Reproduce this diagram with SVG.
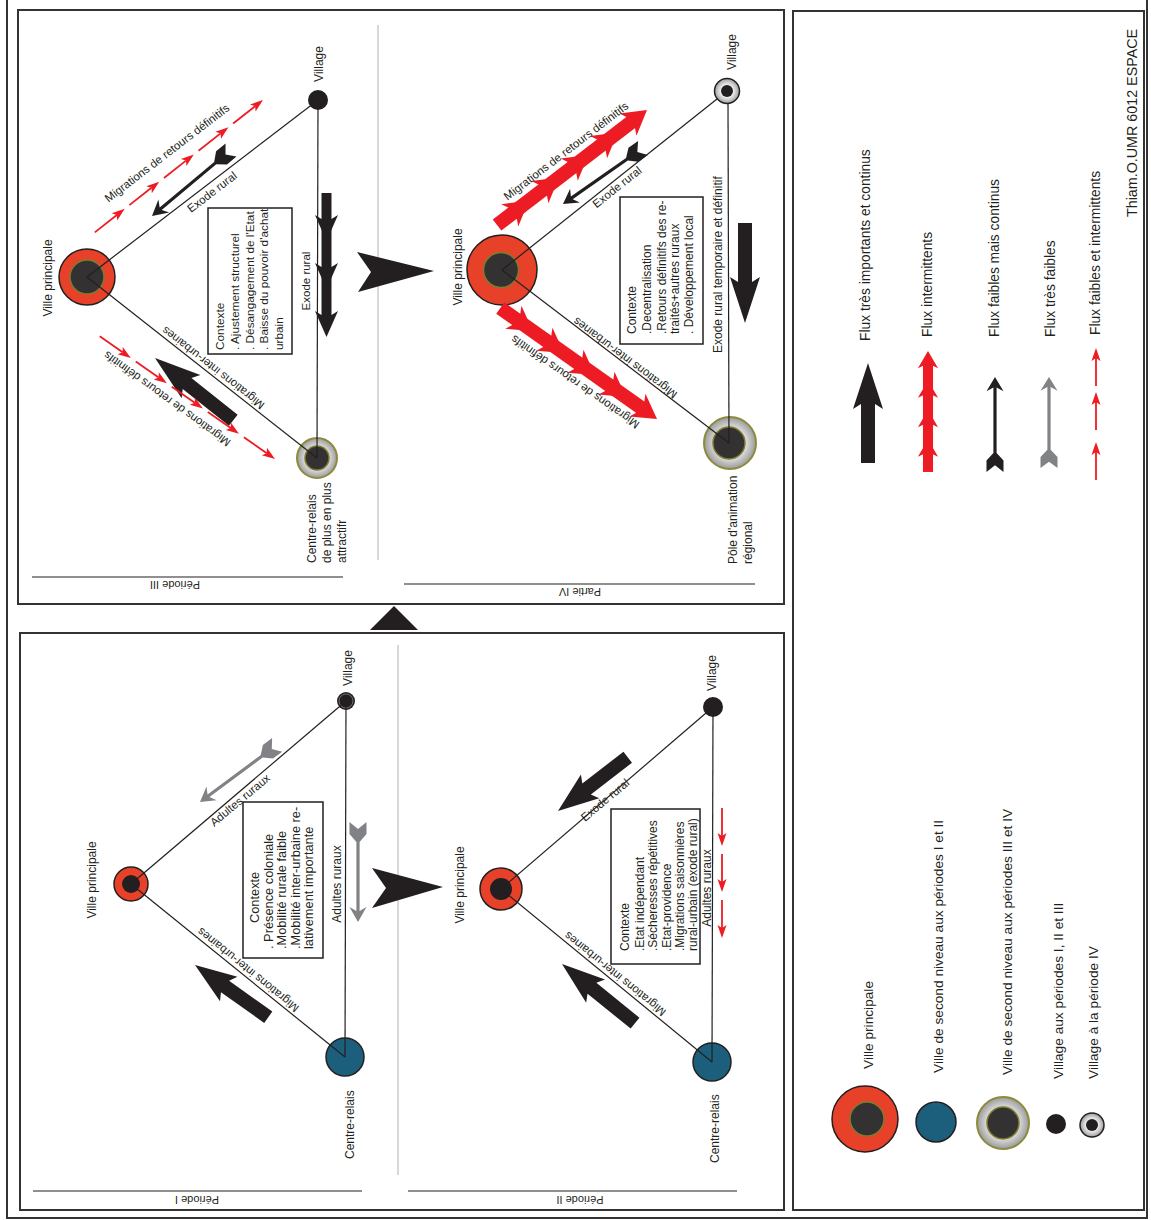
<svg xmlns="http://www.w3.org/2000/svg" width="1151" height="1220" viewBox="0 0 1151 1220">
<style>
.t{font-family:"Liberation Sans",Arial,sans-serif;fill:#231f20}
.lb{font-size:12px}
.dg{font-size:11.5px}
.lg{font-size:13.7px}
.pd{font-size:11px}
.frame{fill:none;stroke:#333;stroke-width:2}
.edge{stroke:#231f20;stroke-width:1.2;fill:none}
.cbox{fill:#fff;stroke:#231f20;stroke-width:1.5}
.red{fill:#e8412a;stroke:#231f20;stroke-width:1.5}
.inner{fill:#333132;stroke:#7d7b2e;stroke-width:1.5}
.ring{fill:url(#gRing);stroke:#8d8a3a;stroke-width:2}
.blue{fill:#1c5f7d;stroke:#231f20;stroke-width:1.5}
.blk{fill:#231f20}
.div{stroke:#b0b0b0;stroke-width:1}
</style>
<defs>
<radialGradient id="gRing" cx="50%" cy="50%" r="50%">
<stop offset="0.55" stop-color="#e6e6e6"/><stop offset="1" stop-color="#9b9b9b"/>
</radialGradient>
<radialGradient id="gVil" cx="50%" cy="50%" r="50%">
<stop offset="0.4" stop-color="#ffffff"/><stop offset="1" stop-color="#9d9d9d"/>
</radialGradient>
<path id="big" d="M0,0 L-46,-15 L-41,-7 L-100,-7 L-100,7 L-41,7 L-46,15 Z"/>
<path id="thin" d="M0,0 L-15,-8.5 L-11,-1.6 L-80,-1.6 L-88,-8.5 L-100,-8.5 L-93,0 L-100,8.5 L-88,8.5 L-80,1.6 L-11,1.6 L-15,8.5 Z"/>
<path id="rhead" d="M0,0 L-24,-14 L-20,-6 L-20,6 L-24,14 Z"/>
<path id="bhead" d="M0,0 L-26,-11.5 L-22,-5 L-22,5 L-26,11.5 Z"/>
<g id="dash"><line x1="-38" y1="0" x2="-10" y2="0" stroke="#ed1c24" stroke-width="1.8"/><path d="M0,0 L-13,-4.5 L-10,0 L-13,4.5 Z" fill="#ed1c24"/></g>
</defs>
<rect width="1151" height="1220" fill="#fff"/>

<!-- frames -->
<g id="frames">
<rect class="frame" x="7" y="-3" width="1140" height="1221"/>
<rect class="frame" x="793" y="11" width="351" height="1199"/>
<rect class="frame" x="18" y="10" width="766" height="594"/>
<rect class="frame" x="20" y="633" width="764" height="577"/>
<line class="div" x1="378" y1="25" x2="378" y2="560"/>
<line class="div" x1="398" y1="645" x2="398" y2="1175"/>
<polygon class="blk" points="394,606 370,630 418,630"/>
<polygon class="blk" points="357,252 434,271 358,292 371,272"/>
<polygon class="blk" points="372,868 443,887 372,908 386,888"/>
<line class="edge" x1="32" y1="577" x2="343" y2="577"/>
<line class="edge" x1="404" y1="584" x2="755" y2="584"/>
<line class="edge" x1="33" y1="1191" x2="362" y2="1191"/>
<line class="edge" x1="408" y1="1191" x2="737" y2="1191"/>
<text class="t pd" text-anchor="middle" transform="translate(175,581) rotate(180)">Période III</text>
<text class="t pd" text-anchor="middle" transform="translate(580,588) rotate(180)">Partie IV</text>
<text class="t pd" text-anchor="middle" transform="translate(197,1196) rotate(180)">Période I</text>
<text class="t pd" text-anchor="middle" transform="translate(580,1196) rotate(180)">Période II</text>
</g>

<!-- nodes -->
<g id="p3-ville"><circle class="red" cx="87" cy="277" r="28"/><circle class="inner" cx="87" cy="277" r="17"/>
<text class="t lb" text-anchor="middle" transform="translate(52,278) rotate(-90)">Ville principale</text></g>
<g id="p3-village"><circle class="blk" cx="318" cy="100" r="10"/>
<text class="t lb" text-anchor="middle" transform="translate(323,64) rotate(-90)">Village</text></g>
<g id="p3-centre"><circle class="ring" cx="317" cy="458" r="20"/><circle class="inner" cx="317" cy="458" r="12"/>
<text class="t lb" transform="translate(316,563) rotate(-90)">Centre-relais</text>
<text class="t lb" transform="translate(331,563) rotate(-90)">de plus en plus</text>
<text class="t lb" transform="translate(346,563) rotate(-90)">attractifr</text></g>
<g id="p3-contexte"><rect class="cbox" x="208" y="208" width="84" height="146"/>
<g class="t" font-size="11.8px">
<text transform="translate(224,350) rotate(-90)">Contexte</text>
<text transform="translate(239,350) rotate(-90)">. Ajustement structurel</text>
<text transform="translate(254,350) rotate(-90)">. Désangagement de l'Etat</text>
<text transform="translate(268,350) rotate(-90)">. Baisse du pouvoir d'achat</text>
<text transform="translate(283,350) rotate(-90)">urbain</text></g></g>

<g id="p4-ville"><circle class="red" cx="502" cy="270" r="35"/><circle class="inner" cx="501" cy="270" r="17.5"/>
<text class="t lb" text-anchor="middle" transform="translate(462,267) rotate(-90)">Ville principale</text></g>
<g id="p4-village"><circle cx="727" cy="91" r="12.5" fill="url(#gVil)" stroke="#231f20" stroke-width="1.5"/><circle class="blk" cx="727" cy="91" r="6"/>
<text class="t lb" text-anchor="middle" transform="translate(736,52) rotate(-90)">Village</text></g>
<g id="p4-pole"><circle class="ring" cx="730" cy="443" r="26"/><circle class="inner" cx="729" cy="443" r="16"/>
<text class="t lb" transform="translate(737,564) rotate(-90)">Pôle d'animation</text>
<text class="t lb" transform="translate(752,564) rotate(-90)">régional</text></g>
<g id="p4-contexte"><rect class="cbox" x="620" y="197" width="83" height="147"/>
<g class="t" font-size="12px">
<text transform="translate(636,334) rotate(-90)">Contexte</text>
<text transform="translate(651,334) rotate(-90)">.Decentralisation</text>
<text transform="translate(666,334) rotate(-90)">.Retours définitifs des re-</text>
<text transform="translate(679,334) rotate(-90)">traités+autres ruraux</text>
<text transform="translate(693,334) rotate(-90)">. Développement local</text></g></g>

<g id="p1-ville"><circle class="red" cx="131" cy="884" r="17"/><circle class="blk" cx="131" cy="884" r="9"/>
<text class="t lb" text-anchor="middle" transform="translate(96,880) rotate(-90)">Ville principale</text></g>
<g id="p1-village"><circle class="blk" cx="346" cy="701" r="9"/><circle cx="346" cy="701" r="7" fill="none" stroke="#fff" stroke-width="0.6" opacity="0.6"/>
<text class="t lb" text-anchor="middle" transform="translate(352,668) rotate(-90)">Village</text></g>
<g id="p1-centre"><circle class="blue" cx="345" cy="1057" r="19"/>
<text class="t lb" transform="translate(354,1159) rotate(-90)">Centre-relais</text></g>
<g id="p1-contexte"><rect class="cbox" x="243" y="802" width="80" height="156"/>
<g class="t" font-size="12.8px">
<text transform="translate(259,923) rotate(-90)">Contexte</text>
<text transform="translate(272.5,949) rotate(-90)">. Présence coloniale</text>
<text transform="translate(286,949) rotate(-90)">.Mobilité rurale faible</text>
<text transform="translate(299.5,949) rotate(-90)">.Mobilité inter-urbaine re-</text>
<text transform="translate(313,949) rotate(-90)">lativement importante</text></g></g>

<g id="p2-ville"><circle class="red" cx="501" cy="889" r="21"/><circle class="blk" cx="501" cy="889" r="11"/>
<text class="t lb" text-anchor="middle" transform="translate(464,885) rotate(-90)">Ville principale</text></g>
<g id="p2-village"><circle class="blk" cx="713" cy="707" r="10"/>
<text class="t lb" text-anchor="middle" transform="translate(716,673) rotate(-90)">Village</text></g>
<g id="p2-centre"><circle class="blue" cx="712" cy="1062" r="19"/>
<text class="t lb" transform="translate(719,1163) rotate(-90)">Centre-relais</text></g>
<g id="p2-contexte"><rect class="cbox" x="611" y="809" width="89" height="155"/>
<g class="t" font-size="12px">
<text transform="translate(629,951) rotate(-90)">Contexte</text>
<text transform="translate(644,951) rotate(-90)">.Etat indépendant</text>
<text transform="translate(657,951) rotate(-90)">.Sécheresses répétitives</text>
<text transform="translate(671,951) rotate(-90)">.Etat-providence</text>
<text transform="translate(684,951) rotate(-90)">.Migrations saisonnières</text>
<text transform="translate(697,951) rotate(-90)">rural-urbain (exode rural)</text></g></g>

<!-- connectors -->
<g id="connectors">
<line class="edge" x1="87" y1="277" x2="318" y2="100"/>
<line class="edge" x1="87" y1="277" x2="317" y2="458"/>
<line class="edge" x1="318" y1="100" x2="317" y2="458"/>
<line class="edge" x1="502" y1="270" x2="717" y2="99"/>
<line class="edge" x1="502" y1="270" x2="729" y2="443"/>
<line class="edge" x1="728" y1="104" x2="729" y2="443"/>
<line class="edge" x1="131" y1="884" x2="346" y2="701"/>
<line class="edge" x1="131" y1="884" x2="345" y2="1057"/>
<line class="edge" x1="346" y1="701" x2="345" y2="1057"/>
<line class="edge" x1="501" y1="889" x2="713" y2="707"/>
<line class="edge" x1="501" y1="889" x2="712" y2="1062"/>
<line class="edge" x1="713" y1="707" x2="712" y2="1062"/>

<!-- Period III flows -->
<use href="#thin" fill="#231f20" transform="translate(152,216) rotate(140.1) scale(1.03,1)"/>
<g fill="#231f20" transform="translate(326.5,337) rotate(90)"><rect x="-144" y="-5" width="124" height="10"/><use href="#bhead"/><use href="#bhead" x="-48"/><use href="#bhead" x="-96"/></g>
<use href="#big" fill="#231f20" transform="translate(155,358) rotate(218.5)"/>
<g transform="translate(263,100) rotate(-38.2)"><use href="#dash"/><use href="#dash" x="-44"/><use href="#dash" x="-88"/><use href="#dash" x="-132"/><use href="#dash" x="-176"/></g>
<g transform="translate(275,459) rotate(35)"><use href="#dash"/><use href="#dash" x="-44"/><use href="#dash" x="-88"/><use href="#dash" x="-132"/><use href="#dash" x="-176"/></g>
<text class="t dg" text-anchor="middle" dominant-baseline="central" transform="translate(212,192) rotate(-37.5)">Exode rural</text>
<text class="t dg" text-anchor="middle" dominant-baseline="central" transform="translate(167,153) rotate(-37.5)">Migrations de retours définitifs</text>
<text class="t dg" text-anchor="middle" dominant-baseline="central" transform="translate(213,368) rotate(218)">Migrations inter-urbaines</text>
<text class="t dg" text-anchor="middle" dominant-baseline="central" transform="translate(167,399) rotate(216)">Migrations de retours définitifs</text>
<text class="t dg" text-anchor="middle" transform="translate(310,281) rotate(-90)">Exode rural</text>

<!-- Period IV flows -->
<use href="#thin" fill="#231f20" transform="translate(563,204) rotate(145) scale(0.976,1)"/>
<use href="#big" fill="#231f20" transform="translate(745,323) rotate(90)"/>
<g fill="#ed1c24" transform="translate(647,110) rotate(-37.5)"><rect x="-189" y="-7" width="172" height="14"/><use href="#rhead"/><use href="#rhead" x="-37"/><use href="#rhead" x="-74"/><use href="#rhead" x="-111"/><use href="#rhead" x="-149"/></g>
<g fill="#ed1c24" transform="translate(657,419) rotate(35.3)"><rect x="-192" y="-7" width="175" height="14"/><use href="#rhead"/><use href="#rhead" x="-38"/><use href="#rhead" x="-76"/><use href="#rhead" x="-114"/><use href="#rhead" x="-152"/></g>
<text class="t dg" text-anchor="middle" dominant-baseline="central" transform="translate(617,187) rotate(-38.5)">Exode rural</text>
<text class="t dg" text-anchor="middle" dominant-baseline="central" transform="translate(566,151) rotate(-37.5)">Migrations de retours définitifs</text>
<text class="t dg" text-anchor="middle" dominant-baseline="central" transform="translate(625,358) rotate(217)">Migrations inter-urbaines</text>
<text class="t dg" text-anchor="middle" dominant-baseline="central" transform="translate(575,382) rotate(215)">Migrations de retours définitifs</text>
<text class="t" font-size="12px" transform="translate(722,353) rotate(-90)">Exode rural temporaire et définitif</text>

<!-- Period I flows -->
<use href="#thin" fill="#808285" transform="translate(200,802) rotate(143.5) scale(0.96,1)"/>
<use href="#thin" fill="#808285" transform="translate(358,922) rotate(90)"/>
<use href="#big" fill="#231f20" transform="translate(195,965) rotate(215.5) scale(0.9,1)"/>
<text class="t dg" text-anchor="middle" dominant-baseline="central" transform="translate(240,800) rotate(-40)">Adultes ruraux</text>
<text class="t dg" text-anchor="middle" dominant-baseline="central" transform="translate(248,970) rotate(219)">Migrations inter-urbaines</text>
<text class="t lb" text-anchor="middle" transform="translate(341,884) rotate(-90)">Adultes ruraux</text>

<!-- Period II flows -->
<use href="#big" fill="#231f20" transform="translate(558,811) rotate(142.4) scale(0.88,1)"/>
<use href="#big" fill="#231f20" transform="translate(562,964) rotate(219) scale(0.94,1)"/>
<g transform="translate(722,938) rotate(90)"><use href="#dash"/><use href="#dash" x="-46"/><use href="#dash" x="-92"/></g>
<text class="t dg" text-anchor="middle" dominant-baseline="central" transform="translate(605,800) rotate(-40)">Exode rural</text>
<text class="t dg" text-anchor="middle" dominant-baseline="central" transform="translate(615,974) rotate(219)">Migrations inter-urbaines</text>
<text class="t lb" text-anchor="middle" transform="translate(711,888) rotate(-90)">Adultes ruraux</text>
</g>

<!-- legend -->
<g id="legend">
<text class="t" font-size="14.3px" transform="translate(1137,217) rotate(-90)">Thiam.O.UMR 6012 ESPACE</text>
<use href="#big" fill="#231f20" transform="translate(868,363) rotate(-90)"/>
<g fill="#ed1c24" transform="translate(928,351) rotate(-90) scale(0.72)"><rect x="-168" y="-7" width="150" height="14"/><use href="#rhead"/><use href="#rhead" x="-41"/><use href="#rhead" x="-82"/><use href="#rhead" x="-123"/></g>
<use href="#thin" fill="#231f20" transform="translate(995,377) rotate(-90) scale(0.95,1)"/>
<use href="#thin" fill="#808285" transform="translate(1049,377) rotate(-90) scale(0.91,1)"/>
<g transform="translate(1096,348) rotate(-90)"><use href="#dash"/><use href="#dash" x="-44"/><use href="#dash" x="-94"/></g>
<g class="t" font-size="13.8px">
<text transform="translate(870,341) rotate(-90)">Flux très importants et continus</text>
<text transform="translate(932,337) rotate(-90)">Flux intermittents</text>
<text transform="translate(999,337) rotate(-90)">Flux faibles mais continus</text>
<text transform="translate(1055,337) rotate(-90)">Flux très faibles</text>
<text transform="translate(1100,335) rotate(-90)">Flux faibles et intermittents</text>
</g>
<g id="lg-ville"><circle class="red" cx="865" cy="1119" r="33"/><circle class="inner" cx="867" cy="1119" r="17"/></g>
<g id="lg-second12"><circle class="blue" cx="936" cy="1122" r="20"/></g>
<g id="lg-second34"><circle class="ring" cx="1003" cy="1123" r="26"/><circle class="inner" cx="1003" cy="1123" r="16"/></g>
<g id="lg-village123"><circle class="blk" cx="1056" cy="1124" r="10"/></g>
<g id="lg-village4"><circle cx="1092" cy="1125" r="12" fill="url(#gVil)" stroke="#231f20" stroke-width="1.5"/><circle class="blk" cx="1092" cy="1125" r="6"/></g>
<g class="t lg">
<text transform="translate(873,1069) rotate(-90)">Ville principale</text>
<text transform="translate(943,1073) rotate(-90)">Ville de second niveau aux périodes I et II</text>
<text transform="translate(1012,1075) rotate(-90)">Ville de second niveau aux périodes III et IV</text>
<text transform="translate(1063,1079) rotate(-90)">Village aux périodes I, II et III</text>
<text transform="translate(1098,1079) rotate(-90)">Village à la période IV</text>
</g>
</g>
</svg>
